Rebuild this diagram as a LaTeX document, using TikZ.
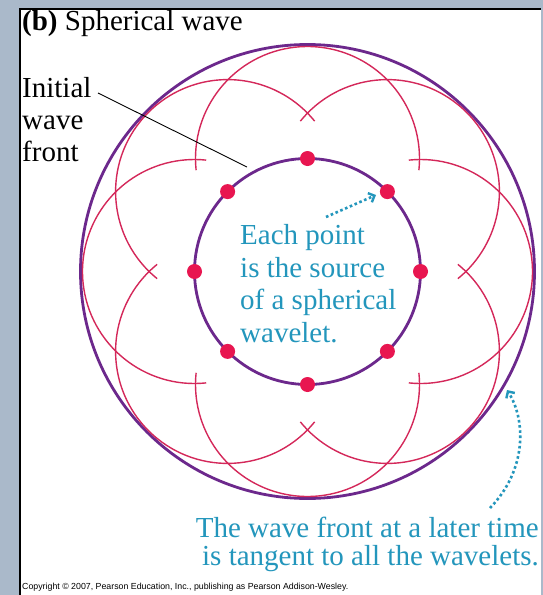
\documentclass[tikz,border=0pt]{standalone}
\usepackage{fontspec}
\IfFontExistsTF{LiberationSerif-Regular.ttf}{%
  \setmainfont{LiberationSerif}[Extension=.ttf, UprightFont=*-Regular, BoldFont=*-Bold, ItalicFont=*-Italic, BoldItalicFont=*-BoldItalic]}{%
  \setmainfont{Liberation Serif}}
\newfontfamily\copyfont{Liberation Sans}
\usetikzlibrary{arrows.meta}
\definecolor{bgblue}{RGB}{170,185,202}
\definecolor{wvpurple}{RGB}{108,40,140}
\definecolor{wvred}{RGB}{212,40,90}
\definecolor{dotred}{RGB}{232,22,80}
\definecolor{tealtxt}{RGB}{35,150,188}
\begin{document}
\begin{tikzpicture}[x=1pt,y=-1pt,
  front/.style={draw=wvpurple, line width=2.8pt},
  wavelet/.style={draw=wvred, line width=1.4pt},
  srcdot/.style={fill=dotred},
  lbl/.style={inner sep=0pt, font=\rmfamily\fontsize{29}{33}\selectfont},
  tlbl/.style={lbl, text=tealtxt},
  tealarrow/.style={draw=tealtxt, line width=2.6pt, dash pattern=on 2.6pt off 2.6pt,
    -{Straight Barb[length=5pt,width=10pt,line width=2.4pt]}},
  leader/.style={draw=black, line width=0.9pt}]
\useasboundingbox (0,0) rectangle (543,595);
% background panel
\fill[bgblue] (0,0) rectangle (543,595);
\fill[white] (20,9) rectangle (541,595);
\draw[black, line width=1.3pt] (20,595) -- (20,9) -- (541,9);
% geometry
\coordinate (O) at (307.5,271.5);
% outer wave front
\draw[front] (O) circle[radius=227];
% wavelets
\foreach \k in {0,...,7}{
  \pgfmathsetmacro\th{45*\k}
  \draw[wavelet] (O) ++(\th:113) ++(\th-96:112) arc[start angle=\th-96, end angle=\th+96, radius=112];
}
% initial wave front
\draw[front] (O) circle[radius=113];
\foreach \k in {0,...,7}{
  \path (O) ++(45*\k:113) coordinate (d\k);
  \fill[srcdot] (d\k) circle[radius=7.5];
}
% title
\node[lbl, anchor=base west] (title) at (22,30) {\textbf{(b)} Spherical wave};
% initial wave front label
\node[lbl, anchor=base west] (init1) at (22,97) {Initial};
\node[lbl, anchor=base west] (init2) at (22,129) {wave};
\node[lbl, anchor=base west] (init3) at (22,161) {front};
\coordinate (lstart) at (98,93);
\coordinate (lend) at (247,167);
\draw[leader] (lstart) -- (lend);
% each point label
\node[tlbl, anchor=base west] (ep1) at (240,244) {Each point};
\node[tlbl, anchor=base west] (ep2) at (240,277) {is the source};
\node[tlbl, anchor=base west] (ep3) at (240,309) {of a spherical};
\node[tlbl, anchor=base west] (ep4) at (240,342) {wavelet.};
\coordinate (a1s) at (326,217);
\coordinate (a1e) at (376,195);
\draw[tealarrow] (a1s) -- (a1e);
% later wave front label
\node[tlbl, font=\rmfamily\fontsize{29}{28}\selectfont, align=right, anchor=base east] (lt) at (539,565)
  {The wave front at a later time\\is tangent to all the wavelets.};
\coordinate (a2s) at (490,508);
\coordinate (a2e) at (507,390);
\draw[tealarrow] (a2s) .. controls (527,470) and (526,420) .. (a2e);
% copyright
\node[inner sep=0pt, anchor=base west, font=\copyfont\fontsize{8.8}{10}\selectfont] (copy) at (22,589)
  {Copyright \textcopyright{} 2007, Pearson Education, Inc., publishing as Pearson Addison-Wesley.};
\end{tikzpicture}
\end{document}
